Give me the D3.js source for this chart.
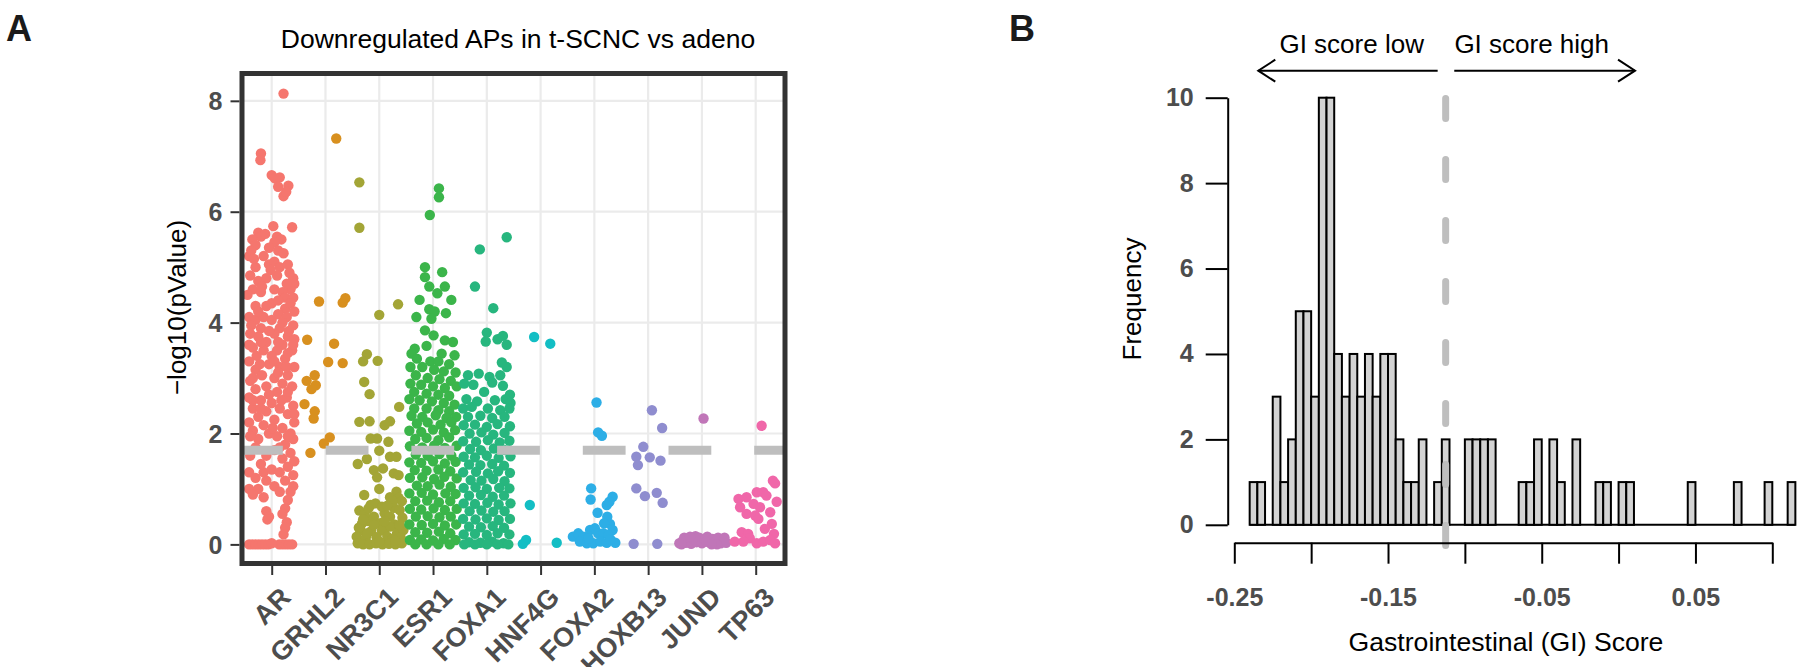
<!DOCTYPE html>
<html>
<head>
<meta charset="utf-8">
<script src="https://cdn.jsdelivr.net/npm/d3@7"></script>
<style>
  body { margin: 0; background: #fff; }
  svg text { font-family: "Liberation Sans", Arial, Helvetica, sans-serif; }
</style>
</head>
<body>
<div id="chart"></div>
<script>
// ---- Panel A: downregulated APs, one jittered strip per factor ----
// each point is [offset inside the category band, -log10(pValue)]
const factors = ["AR", "GRHL2", "NR3C1", "ESR1", "FOXA1", "HNF4G", "FOXA2", "HOXB13", "JUND", "TP63"];
const factorColors = ["#F5766E", "#D8901F", "#A3A536", "#3BB54A", "#27B67E", "#13BEC4", "#2DAEE6", "#8F8DCF", "#C076B8", "#F067A9"];

const arPoints = [
  [0.22,8.13],[-0.2,7.05],[-0.21,6.93],[0.0,6.66],[0.06,6.6],[0.15,6.62],[0.12,6.45],[0.31,6.47],[0.22,6.28],[0.27,6.36],[0.38,5.72],[0.03,5.74],
  [-0.25,5.62],[-0.2,5.55],[-0.36,5.5],[-0.3,5.4],[-0.12,5.6],[0.1,5.55],[0.18,5.5],[0.05,5.45],[-0.05,5.35],[0.12,5.3],[-0.42,5.2],[-0.38,5.3],
  [-0.15,5.2],[-0.05,5.05],[0.05,5.1],[0.15,5.0],[0.3,5.05],[-0.3,5.0],[-0.4,4.85],[-0.25,4.75],[-0.1,4.8],[0.1,4.85],[0.4,4.8],[0.42,4.7],
  [0.35,4.6],[-0.35,4.6],[-0.2,4.55],[0.2,4.55],[0.25,4.45],[0.4,4.45],[0.0,4.35],[-0.1,4.3],[0.25,4.25],[-0.3,4.3],[0.35,4.35],[-0.42,4.1],
  [-0.3,4.05],[-0.15,4.1],[0.0,4.05],[0.12,4.15],[0.28,4.1],[0.4,3.95],[-0.38,3.95],[-0.2,3.9],[0.15,3.9],
  [-0.4,3.8],[-0.25,3.75],[0.05,3.8],[0.3,3.75],[0.42,3.7],[-0.1,3.65],[0.2,3.6],[-0.35,3.55],[-0.15,3.5],[0.1,3.5],[0.38,3.5],[0.0,3.4],
  [-0.28,3.4],[0.25,3.35],[-0.42,3.3],[-0.05,3.25],[0.15,3.2],[0.42,3.2],[-0.3,3.15],[0.3,3.05],[-0.18,3.05],[0.05,3.0],[-0.4,2.95],[0.2,2.9],
  [-0.1,2.85],[0.38,2.85],[-0.3,2.8],[0.1,2.75],[-0.42,2.65],[-0.2,2.6],[0.28,2.65],[0.0,2.55],[0.4,2.5],[-0.35,2.45],[0.15,2.45],[-0.1,2.4],
  [0.3,2.35],[-0.25,2.3],[0.05,2.25],[-0.42,2.2],[0.42,2.2],[-0.15,2.15],[0.2,2.1],[-0.35,2.05],[0.35,2.0],[-0.05,2.0],[0.1,1.95],[-0.25,1.9],
  [0.4,1.9],[0.25,1.8],
  [-0.33,5.15],[0.22,5.25],[-0.02,4.95],[0.33,4.9],[-0.18,4.65],[0.05,4.6],[0.28,4.7],[-0.45,4.5],[0.12,4.4],[-0.25,4.2],[0.42,4.2],
  [0.2,4.0],[-0.05,3.85],[0.32,3.85],[-0.2,3.65],[0.4,3.6],[0.12,3.65],[-0.42,3.6],[0.3,3.45],[-0.22,3.25],[0.05,3.3],[0.28,3.2],
  [-0.35,3.0],[0.12,3.1],[-0.05,2.7],[0.3,2.75],[-0.35,2.6],[0.18,2.6],[-0.2,2.45],[0.42,2.35],[0.02,2.1],[-0.4,1.95],[0.15,1.75],
  [-0.15,1.3],[0.4,1.05],[-0.4,1.6],[0.3,1.95],
  [-0.3,1.75],[0.05,1.7],[0.35,1.65],[-0.1,1.6],[0.2,1.55],[0.42,1.5],[-0.2,1.45],[0.3,1.4],[0.0,1.35],[-0.42,1.3],[0.15,1.3],[0.4,1.25],
  [-0.3,1.2],[-0.1,1.15],[0.25,1.15],[-0.42,1.0],[-0.25,1.0],[0.05,1.05],[0.35,0.95],[-0.35,0.9],[0.15,0.95],[-0.15,0.85],[0.3,0.8],[0.25,0.65],
  [-0.1,0.6],[-0.05,0.5],[0.2,0.55],[0.28,0.4],[-0.08,0.45],[0.25,0.3],[0.22,0.18],
  [-0.42,0],[-0.36,0],[-0.3,0],[-0.24,0],[-0.18,0],[-0.12,0],[-0.06,0],[0.14,0],[0.2,0],[0.26,0],[0.32,0],[0.38,0],[0.0,0.02]
];
const grhl2Points = [
  [0.2,7.32],[-0.12,4.38],[0.32,4.36],[0.37,4.44],[-0.34,3.69],[0.16,3.62],[0.05,3.29],[0.32,3.27],[-0.35,2.95],[-0.2,3.05],
  [-0.18,2.87],[-0.26,2.8],[-0.39,2.53],[-0.2,2.4],[-0.22,2.27],[0.08,1.93],[-0.03,1.82],[-0.28,1.65]
];
const nr3c1Points = [
  [-0.37,6.53],[-0.37,5.71],[0.0,4.14],[0.35,4.33],[-0.23,3.43],[-0.03,3.31],[-0.3,3.3],[-0.28,2.93],[-0.18,2.71],[0.37,2.48],
  [-0.37,2.21],[-0.18,2.22],[0.2,2.22],[0.1,2.15],[-0.16,1.91],[-0.04,1.91],[0.17,1.85],[-0.23,1.54],[0.0,1.69],[0.2,1.58],
  [0.32,1.58],[0.07,1.37],[-0.1,1.34],[-0.04,1.21],[0.27,1.28],[0.36,1.25],[-0.28,0.89],[-0.16,0.71],[-0.37,0.61],[-0.4,1.45],
  [0.32,0.95],[0.0,1.0],[0.2,0.85],[0.36,0.84],[-0.07,0.74],[0.27,0.66],[0.38,0.62],[0.1,0.56],[-0.1,0.5],[0.2,0.5],[0.43,0.48],
  [-0.27,0.55],[-0.32,0.38],[-0.2,0.42],[0.02,0.38],[0.28,0.36],[0.12,0.3],[-0.35,0.26],[-0.15,0.24],[0.05,0.25],[0.33,0.2],[0.45,0.26],
  [-0.42,0.14],[-0.25,0.12],[-0.05,0.13],[0.15,0.14],[0.25,0.1],[0.4,0.12],[-0.4,0.02],[-0.3,0],[-0.18,0],[-0.06,0.02],[0.06,0],
  [0.18,0.01],[0.3,0],[0.42,0.02],
  [-0.38,0.3],[-0.1,0.35],[0.2,0.32],[0.38,0.35],[-0.22,0.2],[0.0,0.05],[0.3,0.07],[0.1,0.42],[-0.3,0.45],[0.42,0.78],[0.25,0.78],
  [0.05,0.68],[-0.2,0.65],[0.15,0.7]
];
const esr1Points = [
  [0.11,6.42],[0.11,6.26],[-0.06,5.94],[-0.15,5.0],[0.17,4.91],[-0.15,4.82],[-0.07,4.65],[0.22,4.65],[0.08,4.53],[-0.25,4.41],[0.34,4.41],
  [-0.07,4.24],[0.03,4.2],[0.24,4.17],[-0.31,4.1],[-0.03,4.07],[-0.15,3.86],[0.01,3.77],[0.22,3.68],[0.37,3.65],[-0.34,3.53],[-0.12,3.58],
  [0.16,3.44],[0.4,3.41],[-0.4,3.44],
  [-0.3,3.35],[-0.05,3.3],[0.1,3.3],[0.3,3.25],[-0.42,3.2],[-0.2,3.2],[0.02,3.15],[0.2,3.12],[0.42,3.1],[-0.32,3.05],[-0.1,3.0],[0.12,2.98],
  [0.33,2.95],[-0.42,2.9],[-0.22,2.88],[0.0,2.85],[0.22,2.82],[0.44,2.85],[-0.35,2.75],[-0.12,2.72],[0.1,2.7],[0.3,2.68],[-0.44,2.62],
  [-0.25,2.6],[-0.02,2.58],[0.2,2.55],[0.4,2.52],[-0.35,2.45],[-0.12,2.45],[0.1,2.42],[0.3,2.4],
  [-0.4,2.32],[-0.2,2.3],[0.05,2.33],[0.25,2.28],[0.43,2.3],[-0.3,2.18],[-0.1,2.2],[0.14,2.16],[0.34,2.2],
  [-0.44,2.05],[-0.22,2.03],[0.0,2.07],[0.2,2.02],[0.41,2.06],[-0.33,1.9],[-0.12,1.92],[0.1,1.88],[0.3,1.93],
  [-0.43,1.77],[-0.2,1.75],[0.02,1.78],[0.22,1.74],[0.44,1.78],[-0.32,1.62],[-0.1,1.6],[0.12,1.63],[0.34,1.6],
  [-0.44,1.48],[-0.22,1.47],[0.0,1.5],[0.22,1.46],[0.42,1.49],[-0.34,1.34],[-0.12,1.33],[0.1,1.35],[0.32,1.32],
  [-0.43,1.2],[-0.2,1.21],[0.02,1.18],[0.21,1.22],[0.44,1.19],[-0.3,1.06],[-0.1,1.05],[0.12,1.08],[0.33,1.04],
  [-0.44,0.92],[-0.21,0.93],[0.0,0.9],[0.23,0.92],[0.42,0.91],[-0.33,0.78],[-0.11,0.79],[0.11,0.76],[0.32,0.78],
  [-0.43,0.64],[-0.22,0.63],[0.01,0.65],[0.22,0.62],[0.44,0.64],[-0.32,0.5],[-0.1,0.51],[0.12,0.49],[0.33,0.5],
  [-0.44,0.36],[-0.21,0.35],[0.0,0.37],[0.22,0.34],[0.43,0.36],[-0.33,0.22],[-0.11,0.21],[0.11,0.23],[0.32,0.2],
  [-0.43,0.08],[-0.22,0.09],[0.0,0.07],[0.2,0.1],[0.42,0.08],[-0.33,0],[-0.12,0],[0.1,0],[0.31,0]
];
const foxa1Points = [
  [0.37,5.54],[-0.13,5.32],[-0.22,4.65],[0.12,4.26],[0.0,3.82],[-0.02,3.66],[0.2,3.7],[0.3,3.76],[0.37,3.6],[0.28,3.28],[0.37,3.2],
  [-0.35,3.05],[-0.15,3.08],[0.05,3.02],[0.25,3.05],[-0.42,2.9],[-0.25,2.88],[0.1,2.92],[0.3,2.86],[0.43,2.7],[-0.05,2.75],[0.35,2.62],
  [0.44,2.55],[-0.38,2.62],[-0.18,2.58],[0.15,2.6],[-0.44,2.45],[-0.28,2.48],[0.02,2.45],[0.25,2.42],[0.42,2.45],
  [-0.35,2.3],[-0.12,2.32],[0.1,2.28],[0.33,2.3],[-0.43,2.15],[-0.22,2.16],[0.0,2.12],[0.2,2.17],[0.43,2.13],
  [-0.32,2.0],[-0.1,2.02],[0.12,1.98],[0.33,2.01],[-0.44,1.86],[-0.2,1.85],[0.02,1.88],[0.24,1.84],[0.42,1.87],
  [-0.31,1.72],[-0.11,1.7],[0.13,1.73],[0.34,1.7],[-0.43,1.58],[-0.22,1.57],[0.0,1.6],[0.22,1.56],[0.44,1.59],
  [-0.33,1.44],[-0.12,1.43],[0.1,1.45],[0.32,1.42],[-0.44,1.3],[-0.2,1.31],[0.02,1.28],[0.21,1.32],[0.43,1.29],
  [-0.3,1.16],[-0.1,1.15],[0.12,1.18],[0.33,1.14],[-0.43,1.02],[-0.21,1.03],[0.0,1.0],[0.23,1.02],[0.42,1.01],
  [-0.33,0.88],[-0.11,0.89],[0.11,0.86],[0.32,0.88],[-0.43,0.74],[-0.22,0.73],[0.01,0.75],[0.22,0.72],[0.44,0.74],
  [-0.32,0.6],[-0.1,0.61],[0.12,0.59],[0.33,0.6],[-0.44,0.46],[-0.21,0.45],[0.0,0.47],[0.22,0.44],[0.43,0.46],
  [-0.33,0.32],[-0.11,0.31],[0.11,0.33],[0.32,0.3],[-0.43,0.18],[-0.22,0.19],[0.0,0.17],[0.2,0.2],[0.42,0.18],
  [-0.33,0.04],[-0.12,0.03],[0.1,0.05],[0.31,0.02],[-0.42,0],[-0.22,0],[0.0,0],[0.2,0],[0.4,0]
];
const hnf4gPoints = [[-0.12,3.74],[0.18,3.62],[-0.2,0.71],[-0.27,0.08],[-0.33,0.01],[0.3,0.03]];
const foxa2Points = [
  [0.04,2.56],[0.07,2.02],[0.14,1.96],[-0.06,1.01],[-0.07,0.81],[0.34,0.86],[0.23,0.71],[0.28,0.77],[0.06,0.57],[0.24,0.5],
  [0.29,0.37],[0.34,0.26],[0.18,0.38],[-0.4,0.14],[-0.3,0.2],[-0.2,0.14],[-0.08,0.26],[0.01,0.29],[0.07,0.2],[0.17,0.2],[0.26,0.17],
  [-0.27,0.05],[-0.14,0.02],[-0.02,0.02],[0.11,0.05],[0.23,0.03],[0.39,0.03],[-0.11,0.11],[0.3,0.09]
];
const hoxb13Points = [
  [0.07,2.42],[0.26,2.1],[-0.09,1.76],[-0.22,1.58],[-0.19,1.43],[0.03,1.57],[0.23,1.51],[-0.22,1.01],[-0.06,0.87],[0.16,0.93],
  [0.27,0.75],[-0.27,0.01],[0.17,0.01]
];
const jundPoints = [
  [0.03,2.27],[-0.42,0.02],[-0.36,0.06],[-0.3,0.03],[-0.25,0.08],[-0.2,0.01],[-0.15,0.1],[-0.1,0.04],[-0.05,0.12],[0.0,0.02],
  [0.05,0.08],[0.1,0.14],[0.15,0.03],[0.2,0.1],[0.25,0.05],[0.3,0.12],[0.35,0.02],[0.4,0.07],[0.45,0.03],[-0.33,0.12],
  [-0.12,0.15],[0.08,0.05],[0.28,0.0],[-0.38,0.0],[0.18,0.0],[-0.22,0.14],[0.42,0.12]
];
const tp63Points = [
  [0.11,2.14],[0.32,1.15],[0.36,1.1],[0.39,0.77],[0.14,0.94],[0.02,0.94],[-0.32,0.82],[-0.17,0.85],[-0.04,0.73],[0.2,0.88],
  [0.08,0.67],[-0.29,0.67],[-0.17,0.55],[-0.01,0.52],[0.27,0.58],[0.05,0.46],[0.3,0.37],[0.17,0.28],[0.34,0.19],[-0.26,0.22],
  [-0.14,0.19],[-0.11,0.11],[-0.39,0.05],[-0.23,0.05],[0.02,0.02],[0.14,0.05],[0.27,0.08],[0.36,0.02]
];
const pointsByFactor = [arPoints, grhl2Points, nr3c1Points, esr1Points, foxa1Points,
  hnf4gPoints, foxa2Points, hoxb13Points, jundPoints, tp63Points];
const yTicksA = [0, 2, 4, 6, 8];
const pCutoff = 1.7; // -log10(0.02)

// ---- Panel B: histogram of GI scores ----
const giBinWidth = 0.005;
const giBinStarts = [
  -0.240, -0.235, -0.230, -0.225, -0.220, -0.215, -0.210, -0.205, -0.200, -0.195, -0.190, -0.185,
  -0.180, -0.175, -0.170, -0.165, -0.160, -0.155, -0.150, -0.145, -0.140, -0.135, -0.130, -0.125,
  -0.120, -0.115, -0.110, -0.105, -0.100, -0.095, -0.090, -0.085, -0.080, -0.075, -0.070, -0.065,
  -0.060, -0.055, -0.050, -0.045, -0.040, -0.035, -0.030, -0.025, -0.020, -0.015, -0.010, -0.005,
  0.000, 0.005, 0.010, 0.015, 0.020, 0.025, 0.030, 0.035, 0.040, 0.045, 0.050, 0.055,
  0.060, 0.065, 0.070, 0.075, 0.080, 0.085, 0.090, 0.095, 0.100, 0.105, 0.110
];
const giCounts = [
  1, 1, 0, 3, 1, 2, 5, 5, 3, 10, 10, 4,
  3, 4, 3, 4, 3, 4, 4, 2, 1, 1, 2, 0,
  1, 2, 0, 0, 2, 2, 2, 2, 0, 0, 0, 1,
  1, 2, 0, 2, 1, 0, 2, 0, 0, 1, 1, 0,
  1, 1, 0, 0, 0, 0, 0, 0, 0, 1, 0, 0,
  0, 0, 0, 1, 0, 0, 0, 1, 0, 0, 1
];
const giTicks = [-0.25, -0.2, -0.15, -0.1, -0.05, 0, 0.05, 0.1];
const giTickLabels = ["-0.25", "", "-0.15", "", "-0.05", "", "0.05", ""];
const freqTicks = [0, 2, 4, 6, 8, 10];
const giCutoff = -0.1125;
const lowArrow = [-0.1177, -0.2344];
const highArrow = [-0.1069, 0.0107];

const svg = d3.select("#chart")
  .append("svg")
  .attr("width", 1800)
  .attr("height", 667);

// ================= Panel A =================
const panelA = { left: 242, right: 785, top: 73.5, bottom: 563.5 };

const xA = d3.scalePoint()
  .domain(factors)
  .range([271.7, 755.7]);
const yA = d3.scaleLinear()
  .domain([-0.35, 8.5])
  .range([563.8, 73.1]);
const step = xA.step();

const gA = svg.append("g");

// grid
gA.selectAll(".vgrid")
  .data(factors)
  .enter().append("line")
  .attr("x1", d => xA(d)).attr("x2", d => xA(d))
  .attr("y1", panelA.top).attr("y2", panelA.bottom)
  .attr("stroke", "#ebebeb")
  .attr("stroke-width", 2.2);
gA.selectAll(".hgrid")
  .data(yTicksA)
  .enter().append("line")
  .attr("x1", panelA.left).attr("x2", panelA.right)
  .attr("y1", d => yA(d)).attr("y2", d => yA(d))
  .attr("stroke", "#ebebeb")
  .attr("stroke-width", 2.2);

// points, one group per factor
const strips = gA.selectAll(".strip")
  .data(factors)
  .enter().append("g")
  .attr("class", "strip")
  .attr("fill", (d, i) => factorColors[i]);

strips.selectAll("circle")
  .data((d, i) => pointsByFactor[i].map(p => ({ factor: d, dx: p[0], v: p[1] })))
  .enter().append("circle")
  .attr("cx", d => xA(d.factor) + d.dx * step)
  .attr("cy", d => yA(d.v))
  .attr("r", 5.2);

// significance cutoff
gA.append("line")
  .attr("x1", 240).attr("x2", panelA.right)
  .attr("y1", yA(pCutoff)).attr("y2", yA(pCutoff))
  .attr("stroke", "#bebebe")
  .attr("stroke-width", 9)
  .attr("stroke-dasharray", "42.8 42.9");

// frame
gA.append("rect")
  .attr("x", panelA.left)
  .attr("y", panelA.top)
  .attr("width", panelA.right - panelA.left)
  .attr("height", panelA.bottom - panelA.top)
  .attr("fill", "none")
  .attr("stroke", "#333")
  .attr("stroke-width", 5);

// axes
const yAxisA = gA.append("g")
  .attr("transform", "translate(239.5,0)")
  .call(d3.axisLeft(yA).tickValues(yTicksA).tickSize(9).tickPadding(8));
const xAxisA = gA.append("g")
  .attr("transform", "translate(0,566)")
  .call(d3.axisBottom(xA).tickSize(9).tickPadding(0));

[yAxisA, xAxisA].forEach(ax => {
  ax.select(".domain").remove();
  ax.selectAll(".tick line").attr("stroke", "#333").attr("stroke-width", 2);
  ax.selectAll(".tick text")
    .attr("fill", "#4d4d4d")
    .attr("font-size", 25)
    .attr("font-weight", "bold");
});
yAxisA.selectAll(".tick text").attr("dy", "0.36em");
xAxisA.selectAll(".tick text")
  .attr("x", null).attr("y", null).attr("dy", null)
  .attr("font-size", 27)
  .attr("text-anchor", "end")
  .attr("transform", "translate(20,33) rotate(-45)");

gA.append("text")
  .attr("x", 518)
  .attr("y", 48)
  .attr("text-anchor", "middle")
  .attr("font-size", 26.5)
  .text("Downregulated APs in t-SCNC vs adeno");

gA.append("text")
  .attr("transform", "translate(186,307.5) rotate(-90)")
  .attr("text-anchor", "middle")
  .attr("font-size", 26)
  .text("\u2212log10(pValue)");

svg.append("text")
  .attr("x", 6).attr("y", 41)
  .attr("font-size", 36)
  .attr("font-weight", "bold")
  .attr("fill", "#1a1a1a")
  .text("A");

// ================= Panel B =================
const xB = d3.scaleLinear()
  .domain([-0.25, 0.1])
  .range([1234.3, 1772.3]);
const yB = d3.scaleLinear()
  .domain([0, 10])
  .range([524.8, 97.7]);

const gB = svg.append("g");
const bins = giBinStarts.map((b, i) => ({ b: b, c: giCounts[i] }));

// empty bins still show as a flat outline along the baseline
gB.append("line")
  .attr("x1", xB(giBinStarts[0]))
  .attr("x2", xB(giBinStarts[giBinStarts.length - 1] + giBinWidth))
  .attr("y1", yB(0)).attr("y2", yB(0))
  .attr("stroke", "#000")
  .attr("stroke-width", 2);

gB.selectAll(".bar")
  .data(bins.filter(d => d.c > 0))
  .enter().append("rect")
  .attr("class", "bar")
  .attr("x", d => xB(d.b))
  .attr("width", d => xB(d.b + giBinWidth) - xB(d.b))
  .attr("y", d => yB(d.c))
  .attr("height", d => yB(0) - yB(d.c))
  .attr("fill", "#d3d3d3")
  .attr("stroke", "#000")
  .attr("stroke-width", 2);

gB.append("line")
  .attr("x1", xB(giCutoff)).attr("x2", xB(giCutoff))
  .attr("y1", 98.5).attr("y2", 546)
  .attr("stroke", "#bebebe")
  .attr("stroke-width", 7)
  .attr("stroke-linecap", "round")
  .attr("stroke-dasharray", "20 41");

const xAxisB = gB.append("g")
  .attr("transform", "translate(0,542.7)")
  .call(d3.axisBottom(xB)
    .tickValues(giTicks)
    .tickFormat((d, i) => giTickLabels[i])
    .tickSize(21)
    .tickSizeOuter(0)
    .tickPadding(25));
const yAxisB = gB.append("g")
  .attr("transform", "translate(1227.7,0)")
  .call(d3.axisLeft(yB)
    .tickValues(freqTicks)
    .tickSize(22)
    .tickSizeOuter(0)
    .tickPadding(12));

[xAxisB, yAxisB].forEach(ax => {
  ax.select(".domain").attr("stroke", "#000").attr("stroke-width", 2);
  ax.selectAll(".tick line").attr("stroke", "#000").attr("stroke-width", 2);
  ax.selectAll(".tick text")
    .attr("fill", "#4d4d4d")
    .attr("font-size", 25)
    .attr("font-weight", "bold");
});

gB.append("text")
  .attr("transform", "translate(1141,299) rotate(-90)")
  .attr("text-anchor", "middle")
  .attr("font-size", 26)
  .text("Frequency");

gB.append("text")
  .attr("x", 1506).attr("y", 650.7)
  .attr("text-anchor", "middle")
  .attr("font-size", 26.6)
  .text("Gastrointestinal (GI) Score");

// direction arrows above the histogram
const arrowY = 70.7;
[lowArrow, highArrow].forEach(a => {
  const x0 = xB(a[0]), x1 = xB(a[1]);
  const dir = x1 > x0 ? 1 : -1;
  gB.append("line")
    .attr("x1", x0).attr("x2", x1)
    .attr("y1", arrowY).attr("y2", arrowY)
    .attr("stroke", "#000")
    .attr("stroke-width", 2);
  gB.append("polyline")
    .attr("points", `${x1 - dir * 17},${arrowY - 11} ${x1},${arrowY} ${x1 - dir * 17},${arrowY + 11}`)
    .attr("fill", "none")
    .attr("stroke", "#000")
    .attr("stroke-width", 2);
});

gB.append("text")
  .attr("x", 1351.7).attr("y", 53.3)
  .attr("text-anchor", "middle")
  .attr("font-size", 26)
  .text("GI score low");
gB.append("text")
  .attr("x", 1531.7).attr("y", 53.3)
  .attr("text-anchor", "middle")
  .attr("font-size", 26)
  .text("GI score high");

svg.append("text")
  .attr("x", 1009).attr("y", 41)
  .attr("font-size", 36)
  .attr("font-weight", "bold")
  .attr("fill", "#1a1a1a")
  .text("B");
</script>
</body>
</html>
